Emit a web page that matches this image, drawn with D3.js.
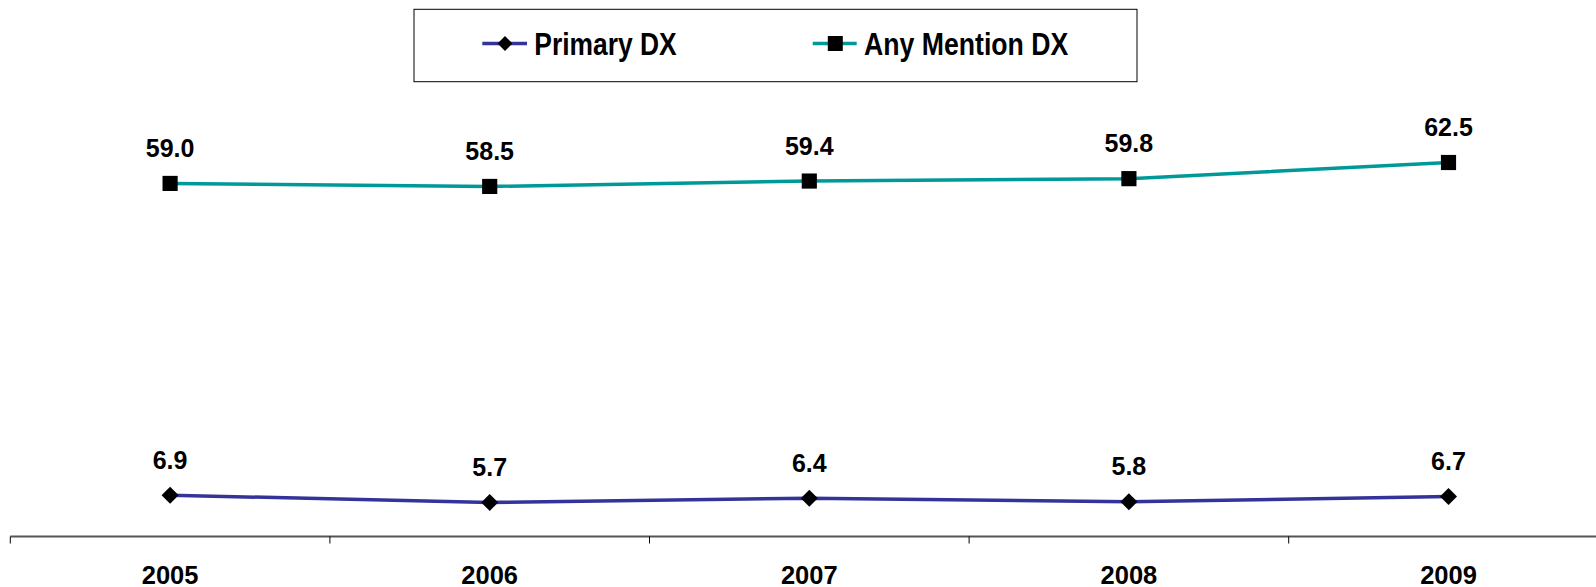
<!DOCTYPE html>
<html>
<head>
<meta charset="utf-8">
<script src="https://cdn.jsdelivr.net/npm/d3@7"></script>
<style>
  html, body { margin: 0; padding: 0; background: #fff; }
  svg { display: block; font-family: "Liberation Sans", Arial, sans-serif; }
</style>
</head>
<body>
<svg id="chart" width="1596" height="587"></svg>
<script>
const years = ["2005", "2006", "2007", "2008", "2009"];
const primaryDX = [6.9, 5.7, 6.4, 5.8, 6.7];
const anyMentionDX = [59.0, 58.5, 59.4, 59.8, 62.5];
const seriesNames = ["Primary DX", "Any Mention DX"];
const seriesColors = ["#333399", "#009999"];

const svg = d3.select("#chart");

const axisY = 536.5;
const x = d3.scaleBand().domain(years).range([10.3, 1608.3]).padding(0);
const y = d3.scaleLinear().domain([0, 70]).range([axisY, axisY - 70 * 5.984]);

// Axis
const axisG = svg.append("g").attr("transform", `translate(0,${axisY})`);
axisG.append("line")
  .attr("x1", 10.3).attr("x2", 1608.3).attr("y1", 0).attr("y2", 0)
  .attr("stroke", "#555").attr("stroke-width", 2);
const tickPos = years.map(d => x(d)).concat([x.range()[1]]);
axisG.selectAll("line.tick").data(tickPos).enter().append("line")
  .attr("class", "tick")
  .attr("x1", d => d).attr("x2", d => d).attr("y1", 0).attr("y2", 7)
  .attr("stroke", "#000").attr("stroke-width", 1);
axisG.selectAll("text.yr").data(years).enter().append("text")
  .attr("class", "yr")
  .attr("x", d => x(d) + x.bandwidth() / 2)
  .attr("y", 583.5 - axisY)
  .attr("text-anchor", "middle")
  .attr("font-size", 25.5).attr("font-weight", "bold").attr("fill", "#000")
  .text(d => d);

const cx = d => x(d) + x.bandwidth() / 2;
const line = d3.line().x(d => cx(d.year)).y(d => y(d.value));

const series = [
  { name: seriesNames[0], color: seriesColors[0], values: primaryDX, marker: "diamond" },
  { name: seriesNames[1], color: seriesColors[1], values: anyMentionDX, marker: "square" }
];

series.forEach(s => {
  const pts = years.map((yr, i) => ({ year: yr, value: s.values[i] }));
  svg.append("path").datum(pts)
    .attr("d", line).attr("fill", "none")
    .attr("stroke", s.color).attr("stroke-width", 3.5);
  svg.selectAll(null).data(pts).enter().append("path")
    .attr("d", s.marker === "diamond" ? d3.symbol().type(d3.symbolSquare).size(145)() : d3.symbol().type(d3.symbolSquare).size(230)())
    .attr("transform", d => `translate(${cx(d.year)},${y(d.value)})` + (s.marker === "diamond" ? " rotate(45)" : ""))
    .attr("fill", "#000");
  svg.selectAll(null).data(pts).enter().append("text")
    .attr("x", d => cx(d.year))
    .attr("y", d => y(d.value) - 26.5)
    .attr("text-anchor", "middle")
    .attr("font-size", 25).attr("font-weight", "bold").attr("fill", "#000")
    .text(d => d.value.toFixed(1));
});

// Legend
const lg = svg.append("g");
lg.append("rect").attr("x", 414).attr("y", 9.3).attr("width", 723).attr("height", 72.4)
  .attr("fill", "#fff").attr("stroke", "#000").attr("stroke-width", 1);
const legendItems = [
  { name: seriesNames[0], color: seriesColors[0], lx1: 482.3, lx2: 527, mx: 505, tx: 534.3, tw: 142.4, marker: "diamond" },
  { name: seriesNames[1], color: seriesColors[1], lx1: 812.7, lx2: 856.7, mx: 835.3, tx: 864, tw: 204.3, marker: "square" }
];
legendItems.forEach(it => {
  lg.append("line").attr("x1", it.lx1).attr("x2", it.lx2).attr("y1", 43.5).attr("y2", 43.5)
    .attr("stroke", it.color).attr("stroke-width", 3.5);
  lg.append("path")
    .attr("d", it.marker === "diamond" ? d3.symbol().type(d3.symbolSquare).size(110)() : d3.symbol().type(d3.symbolSquare).size(225)())
    .attr("transform", `translate(${it.mx},43.5)` + (it.marker === "diamond" ? " rotate(45)" : ""))
    .attr("fill", "#000");
  lg.append("text").attr("x", it.tx).attr("y", 55)
    .attr("font-size", 31).attr("font-weight", "bold").attr("fill", "#000")
    .attr("textLength", it.tw).attr("lengthAdjust", "spacingAndGlyphs")
    .text(it.name);
});
</script>
</body>
</html>
